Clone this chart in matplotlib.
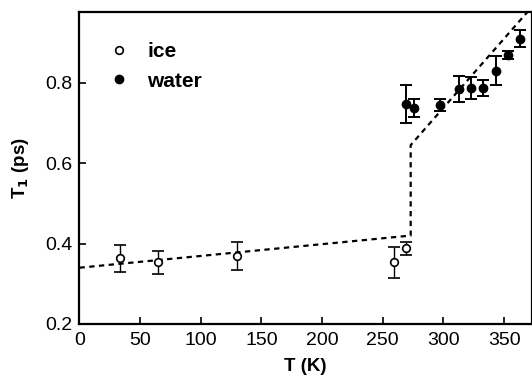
import numpy as np
import matplotlib.pyplot as plt
from matplotlib.lines import Line2D

plt.rcParams['font.family'] = ['Liberation Sans', 'DejaVu Sans']

# ice data
ice_T = [33, 65, 130, 259, 269]
ice_y = [0.363, 0.353, 0.370, 0.353, 0.388]
ice_err = [0.033, 0.028, 0.035, 0.038, 0.017]

# water data
water_T = [269, 276, 297, 313, 323, 333, 343, 353, 363]
water_y = [0.747, 0.738, 0.745, 0.785, 0.787, 0.788, 0.830, 0.869, 0.910]
water_err = [0.047, 0.022, 0.014, 0.032, 0.028, 0.020, 0.036, 0.010, 0.021]

# model curve (dashed)
fit_T = [0, 273, 273, 373]
fit_y = [0.340, 0.420, 0.645, 0.989]

xticks = [0, 50, 100, 150, 200, 250, 300, 350]
yticks = [0.2, 0.4, 0.6, 0.8]

fig = plt.figure(figsize=(5.32, 3.77), dpi=100)
ax = fig.add_axes([0.1494, 0.1406, 0.8506, 0.8264])

ax.plot(fit_T, fit_y, color='black', lw=1.6, linestyle=(0, (2.4, 2.0)), zorder=1)

ax.errorbar(ice_T, ice_y, yerr=ice_err, fmt='o', mfc='white', mec='black',
            mew=1.2, ms=5.5, ecolor='black', elinewidth=1.0, capsize=4.5,
            capthick=1.0, zorder=3)
ax.errorbar(water_T, water_y, yerr=water_err, fmt='o', mfc='black', mec='black',
            ms=6, ecolor='black', elinewidth=1.4, capsize=4.5, capthick=1.4,
            zorder=3)

ax.set_xlim(0, 373)
ax.set_ylim(0.2, 0.975)
ax.set_xticks(xticks)
ax.set_yticks(yticks)
ax.set_xticklabels([str(t) for t in xticks])
ax.set_yticklabels(['%.1f' % t for t in yticks])
ax.tick_params(direction='in', length=5, width=1.2, labelsize=14)
ax.tick_params(axis='x', pad=6)
ax.tick_params(axis='y', pad=5)

for s in ['left', 'bottom', 'top', 'right']:
    ax.spines[s].set_linewidth(1.6)

ax.set_xlabel('T (K)', fontsize=13.5, fontweight='bold', labelpad=6)
ax.set_ylabel(r'T$_\mathbf{1}$ (ps)', fontsize=13.5, fontweight='bold', labelpad=10)

handles = [
    Line2D([], [], marker='o', ls='none', mfc='white', mec='black', mew=1.2, ms=5.5),
    Line2D([], [], marker='o', ls='none', mfc='black', mec='black', ms=6),
]
ax.legend(handles, ['ice', 'water'], loc='upper left', bbox_to_anchor=(0.012, 0.965),
          frameon=False, prop={'size': 15, 'weight': 'bold'},
          handletextpad=0.6, labelspacing=0.5, handlelength=1.5)

fig.savefig('out.png', dpi=100)
